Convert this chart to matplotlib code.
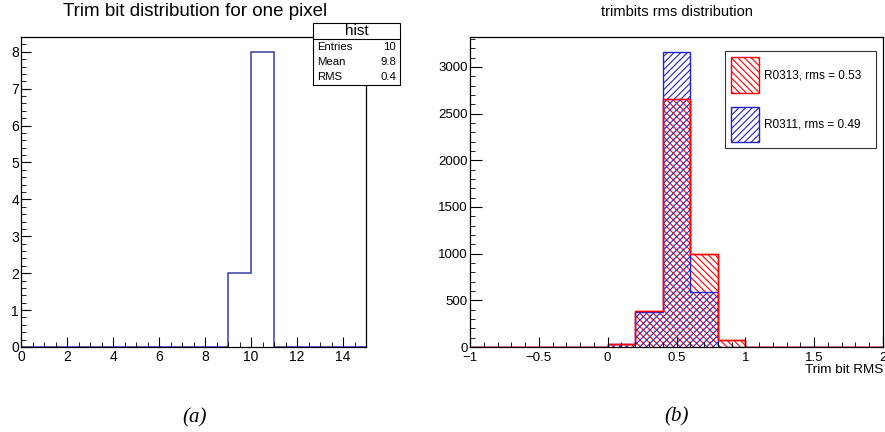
import matplotlib
matplotlib.use('Agg')
import matplotlib.pyplot as plt
from matplotlib.patches import Patch, Rectangle
from matplotlib.ticker import MultipleLocator
import numpy as np

plt.rcParams['font.family'] = ['Liberation Sans', 'DejaVu Sans']
plt.rcParams['hatch.linewidth'] = 0.8

# (a) trim bit of one pixel, 15 unit bins from 0 to 15
pixel_edges = np.arange(0, 16, 1)
pixel_counts = [0, 0, 0, 0, 0, 0, 0, 0, 0, 2, 8, 0, 0, 0, 0]
stat_names = ['Entries', 'Mean', 'RMS']
stat_values = ['10', '9.8', '0.4']

# (b) trimbit rms, 15 bins of 0.2 from -1 to 2
rms_edges = np.round(np.arange(-1.0, 2.01, 0.2), 2)
r0313 = [0, 0, 0, 0, 0, 35, 390, 2660, 1000, 70, 0, 0, 0, 0, 0]
r0311 = [0, 0, 0, 0, 0, 30, 370, 3160, 590, 5, 0, 0, 0, 0, 0]
labels = ['R0313, rms = 0.53', 'R0311, rms = 0.49']

W, H = 885, 432
fig = plt.figure(figsize=(W / 100, H / 100), dpi=100)

def px_axes(x0, y0, x1, y1):
    return fig.add_axes([x0 / W, 1 - y1 / H, (x1 - x0) / W, (y1 - y0) / H])

def root_style(ax, size):
    ax.tick_params(which='both', direction='in', labelsize=size, pad=1.5,
                   top=False, right=False)
    ax.tick_params(which='major', length=7)
    ax.tick_params(which='minor', length=3.5)
    ax.tick_params(axis='x', pad=2.5)
    for s in ax.spines.values():
        s.set_linewidth(0.9)

# --- left panel
ax1 = px_axes(21, 37, 366, 347)
ax1.stairs(pixel_counts, pixel_edges, color='#3a3aa8', linewidth=1.1, baseline=0)
ax1.set_xlim(0, 15)
ax1.set_ylim(0, 8.4)
ax1.xaxis.set_major_locator(MultipleLocator(2))
ax1.xaxis.set_minor_locator(MultipleLocator(0.5))
ax1.yaxis.set_major_locator(MultipleLocator(1))
ax1.yaxis.set_minor_locator(MultipleLocator(0.2))
root_style(ax1, 10)
fig.text(195 / W, 1 - 11 / H, 'Trim bit distribution for one pixel',
         ha='center', va='center', fontsize=13.5)

# stats box
bx0, by0, bx1, by1 = 313, 23, 400, 85
fig.patches.append(Rectangle((bx0 / W, 1 - by1 / H), (bx1 - bx0) / W, (by1 - by0) / H,
                             transform=fig.transFigure, facecolor='white',
                             edgecolor='black', linewidth=0.8, zorder=5))
fig.lines.append(plt.Line2D([bx0 / W, bx1 / W], [1 - 39 / H, 1 - 39 / H],
                            transform=fig.transFigure, color='black', linewidth=0.8, zorder=6))
fig.text((bx0 + bx1) / 2 / W, 1 - 31 / H, 'hist', ha='center', va='center',
         fontsize=11, zorder=7)
for i, (n, v) in enumerate(zip(stat_names, stat_values)):
    yy = 1 - (47 + i * 15) / H
    fig.text((bx0 + 4) / W, yy, n, ha='left', va='center', fontsize=8.2, zorder=7)
    fig.text((bx1 - 4) / W, yy, v, ha='right', va='center', fontsize=8.2, zorder=7)

# --- right panel
ax2 = px_axes(470, 37, 883, 347)
ax2.stairs(r0313, rms_edges, fill=True, facecolor='none', edgecolor='red',
           hatch='\\\\\\\\\\', linewidth=1.0)
ax2.stairs(r0311, rms_edges, fill=True, facecolor='none', edgecolor='#2222cc',
           hatch='/////', linewidth=1.0)
ax2.stairs(r0313, rms_edges, color='red', linewidth=1.0)
ax2.set_xlim(-1, 2)
ax2.set_ylim(0, 3320)
ax2.xaxis.set_major_locator(MultipleLocator(0.5))
ax2.xaxis.set_minor_locator(MultipleLocator(0.1))
ax2.yaxis.set_major_locator(MultipleLocator(500))
ax2.yaxis.set_minor_locator(MultipleLocator(100))
ax2.xaxis.set_major_formatter(plt.FuncFormatter(
    lambda v, p: ('%g' % v).replace('-', '\u2212')))
root_style(ax2, 9.5)
ax2.tick_params(axis='y', which='major', length=8.5)
ax2.tick_params(axis='x', pad=3.5)
fig.text(883 / W, 1 - 370 / H, 'Trim bit RMS', ha='right', va='center', fontsize=9.7)
fig.text(677 / W, 1 - 12 / H, 'trimbits rms distribution',
         ha='center', va='center', fontsize=10.5)

handles = [Patch(facecolor='none', edgecolor='red', hatch='\\\\\\\\\\'),
           Patch(facecolor='none', edgecolor='#2222cc', hatch='/////')]
lx0, ly0, lx1, ly1 = 725, 51, 876, 149
leg = ax2.legend(handles, labels, loc='upper left', mode='expand',
                 bbox_to_anchor=((lx0 - 470) / 413, 1 - (ly1 - 37) / 310,
                                 (lx1 - lx0) / 413, (ly1 - ly0) / 310),
                 fontsize=8.5, frameon=True, fancybox=False, edgecolor='black',
                 handlelength=2.37, handleheight=4.2, labelspacing=1.2,
                 handletextpad=0.4, borderpad=0.55, borderaxespad=0)
leg.get_frame().set_linewidth(0.8)

# sub-figure labels
fig.text(195 / W, 1 - 418 / H, '(a)', ha='center', va='center', fontsize=15,
         family='Liberation Serif', style='italic')
fig.text(677 / W, 1 - 417 / H, '(b)', ha='center', va='center', fontsize=15,
         family='Liberation Serif', style='italic')

fig.savefig('out.png', dpi=100)
